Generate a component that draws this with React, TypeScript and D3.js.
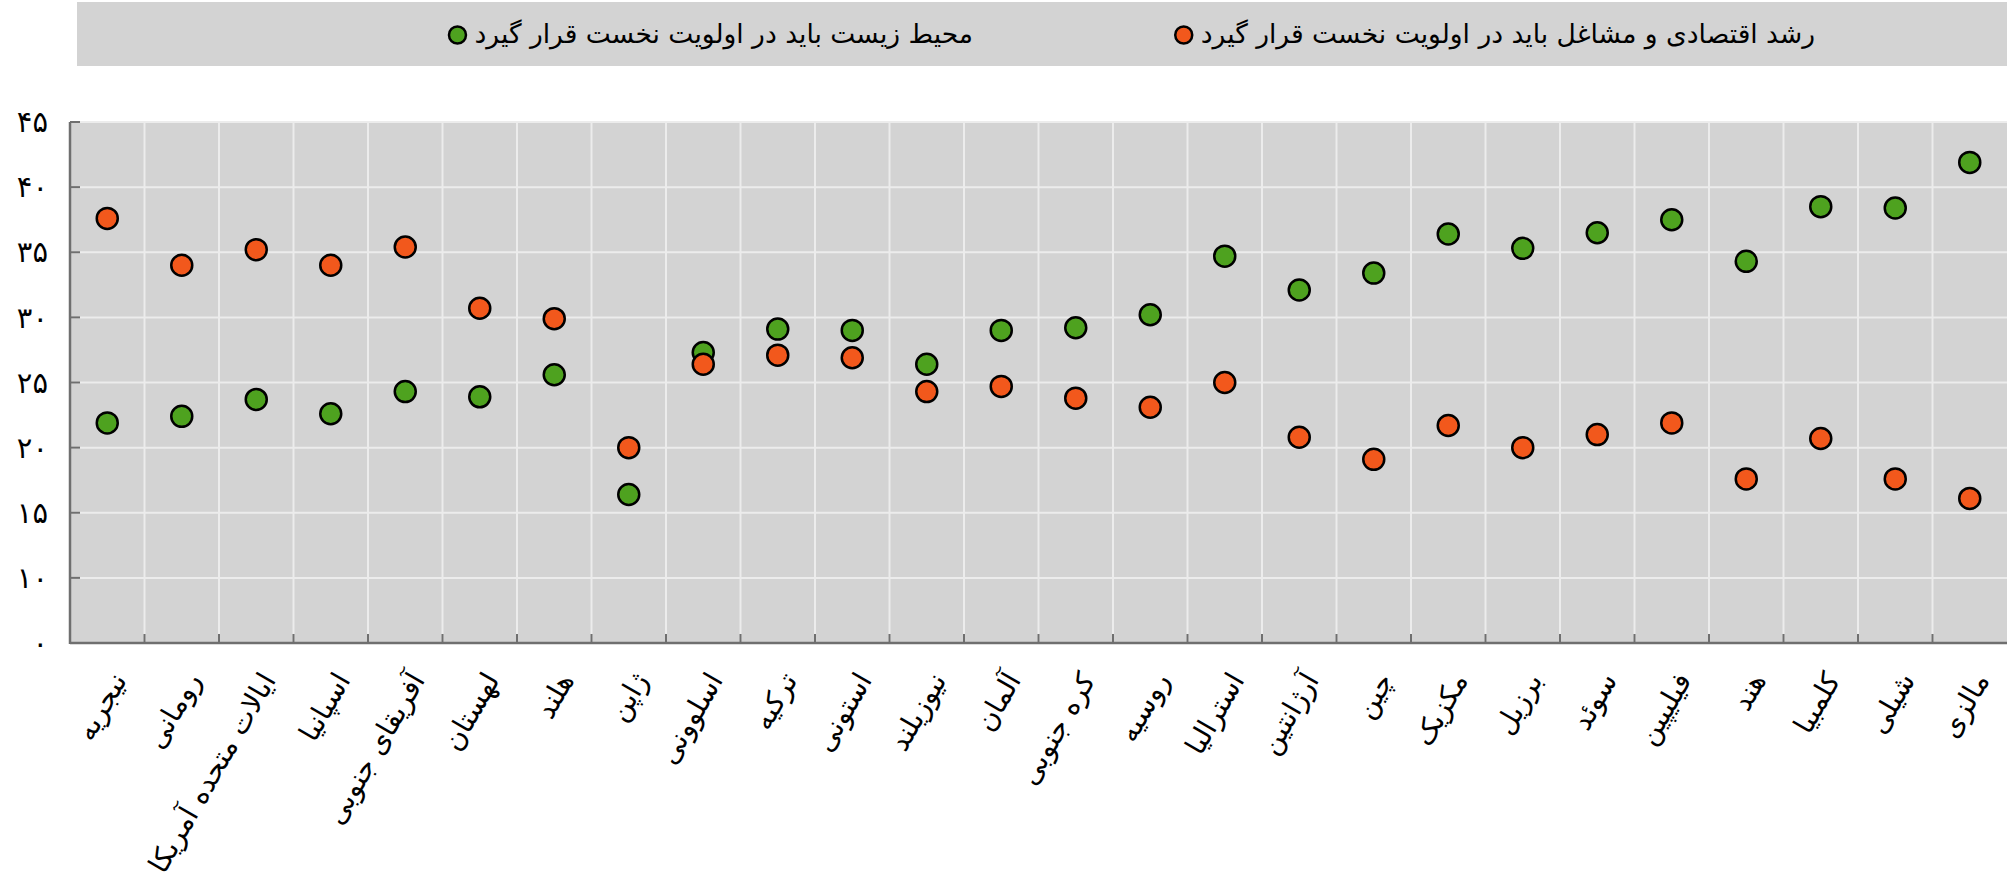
import React, { useEffect, useRef } from 'react';
import * as d3 from 'd3';

// countries, in the order they appear from left to right
const countries = [
  'نیجریه', 'رومانی', 'ایالات متحده آمریکا', 'اسپانیا', 'آفریقای جنوبی', 'لهستان',
  'هلند', 'ژاپن', 'اسلوونی', 'ترکیه', 'استونی', 'نیوزیلند', 'آلمان', 'کره جنوبی',
  'روسیه', 'استرالیا', 'آرژانتین', 'چین', 'مکزیک', 'برزیل', 'سوئد', 'فیلیپین',
  'هند', 'کلمبیا', 'شیلی', 'مالزی',
];

// orange: economic growth and jobs should come first
const growthFirst = [
  37.6, 34.0, 35.2, 34.0, 35.4, 30.7, 29.9, 20.0, 26.4, 27.1, 26.9, 24.3, 24.7,
  23.8, 23.1, 25.0, 20.8, 19.1, 21.7, 20.0, 21.0, 21.9, 17.6, 20.7, 17.6, 16.1,
];

// green: environment should come first
const environmentFirst = [
  21.9, 22.4, 23.7, 22.6, 24.3, 23.9, 25.6, 16.4, 27.3, 29.1, 29.0, 26.4, 29.0,
  29.2, 30.2, 34.7, 32.1, 33.4, 36.4, 35.3, 36.5, 37.5, 34.3, 38.5, 38.4, 41.9,
];

const yTickValues = [5, 10, 15, 20, 25, 30, 35, 40, 45];
const yTickLabels = ['۰', '۱۰', '۱۵', '۲۰', '۲۵', '۳۰', '۳۵', '۴۰', '۴۵'];

const legendLabels = [
  'رشد اقتصادی و مشاغل باید در اولویت نخست قرار گیرد',
  'محیط زیست باید در اولویت نخست قرار گیرد',
];

const ORANGE = '#f2581c';
const GREEN = '#4ea21f';
const FONT = '"DejaVu Sans", sans-serif';

export default function App() {
  const ref = useRef<SVGSVGElement | null>(null);

  useEffect(() => {
    const svg = d3.select(ref.current);
    svg.selectAll('*').remove();

    const left = 70, right = 2007, top = 122, bottom = 643;

    // legend box
    svg.append('rect')
      .attr('x', 77).attr('y', 2)
      .attr('width', 2007 - 77).attr('height', 64)
      .attr('fill', '#d3d3d3');

    const legendItems = [
      { label: legendLabels[0], color: ORANGE, xEnd: 1815 },
      { label: legendLabels[1], color: GREEN, xEnd: 973 },
    ];
    legendItems.forEach(item => {
      const t = svg.append('text')
        .attr('x', item.xEnd).attr('y', 34)
        .attr('dy', '0.35em')
        .attr('text-anchor', 'end')
        .style('font-family', FONT)
        .style('font-size', '26.5px')
        .attr('fill', '#000')
        .text(item.label);
      const w = (t.node() as SVGTextElement).getComputedTextLength();
      svg.append('circle')
        .attr('cx', item.xEnd - w - 17).attr('cy', 35)
        .attr('r', 8.5)
        .attr('fill', item.color)
        .attr('stroke', '#000')
        .attr('stroke-width', 2.5);
    });

    const x = d3.scaleBand<string>().domain(countries).range([left, right]);
    const y = d3.scaleLinear().domain([5, 45]).range([bottom, top]);

    // plot background
    svg.append('rect')
      .attr('x', left).attr('y', top)
      .attr('width', right - left).attr('height', bottom - top)
      .attr('fill', '#d3d3d3');

    const grid = svg.append('g').attr('stroke', '#ececec').attr('stroke-width', 2);
    grid.selectAll('line.h')
      .data(yTickValues.slice(1))
      .enter().append('line')
      .attr('x1', left).attr('x2', right)
      .attr('y1', d => y(d)).attr('y2', d => y(d));
    grid.selectAll('line.v')
      .data(countries.slice(1))
      .enter().append('line')
      .attr('x1', d => x(d)!).attr('x2', d => x(d)!)
      .attr('y1', top).attr('y2', bottom);

    // axes
    const axisColor = '#6f6f6f';
    svg.append('line')
      .attr('x1', left).attr('x2', left).attr('y1', top).attr('y2', bottom + 1)
      .attr('stroke', axisColor).attr('stroke-width', 2.5);
    svg.append('line')
      .attr('x1', left).attr('x2', right).attr('y1', bottom).attr('y2', bottom)
      .attr('stroke', axisColor).attr('stroke-width', 2.5);

    svg.selectAll('line.ytick')
      .data(yTickValues.slice(1))
      .enter().append('line')
      .attr('x1', left).attr('x2', left + 10)
      .attr('y1', d => y(d)).attr('y2', d => y(d))
      .attr('stroke', axisColor).attr('stroke-width', 2);
    svg.selectAll('line.xtick')
      .data(countries.slice(1))
      .enter().append('line')
      .attr('x1', d => x(d)!).attr('x2', d => x(d)!)
      .attr('y1', bottom).attr('y2', bottom - 9)
      .attr('stroke', axisColor).attr('stroke-width', 2);

    svg.selectAll('text.ylab')
      .data(yTickValues)
      .enter().append('text')
      .attr('x', 48).attr('y', d => y(d))
      .attr('dy', '0.35em')
      .attr('text-anchor', 'end')
      .style('font-family', FONT)
      .style('font-size', '29px')
      .text((d, i) => yTickLabels[i]);

    svg.selectAll('text.xlab')
      .data(countries)
      .enter().append('text')
      .attr('transform', d => 'translate(' + (x(d)! + x.bandwidth() / 2 + 12) + ',' + (bottom + 32) + ') rotate(-60)')
      .attr('dy', '0.35em')
      .attr('text-anchor', 'end')
      .style('font-family', FONT)
      .style('font-size', '28px')
      .text(d => d);

    // points: green first, orange on top
    const series = [
      { values: environmentFirst, color: GREEN },
      { values: growthFirst, color: ORANGE },
    ];
    series.forEach(s => {
      svg.append('g').selectAll('circle')
        .data(countries)
        .enter().append('circle')
        .attr('cx', d => x(d)! + x.bandwidth() / 2)
        .attr('cy', (d, i) => y(s.values[i]))
        .attr('r', 10.5)
        .attr('fill', s.color)
        .attr('stroke', '#000')
        .attr('stroke-width', 2.5);
    });
  }, []);

  return (
    <svg ref={ref} width={2007} height={881}
      style={{ position: 'absolute', left: 0, top: 0, display: 'block', background: '#fff' }} />
  );
}
